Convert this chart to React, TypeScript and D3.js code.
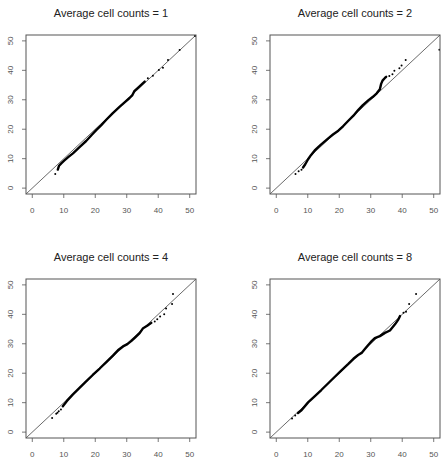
import React from 'react';
import * as d3 from 'd3';

// panel titles
const titles = [
  'Average cell counts = 1',
  'Average cell counts = 2',
  'Average cell counts = 4',
  'Average cell counts = 8',
];

const tickValues = [0, 10, 20, 30, 40, 50];

// dense part of each QQ plot
const band1 = [[8.1, 6.3], [8.5, 7.6], [9.2, 8.4], [10.2, 9.4], [11.5, 10.6], [12.9, 11.8], [15, 13.9], [17.1, 16.0], [19, 18.2], [20.3, 19.7], [22, 21.5], [23.5, 23.2], [25.5, 25.4], [27.7, 27.6], [29.5, 29.3], [30.9, 30.6], [31.8, 31.6], [32.4, 32.9], [33.3, 33.8], [34.5, 35.0], [35.7, 36.2]];
const band2 = [[8.5, 7.0], [9.2, 8.1], [10.1, 9.8], [11.0, 11.2], [12.2, 12.8], [14, 14.6], [16.5, 16.9], [18, 18.2], [19.7, 19.5], [21.2, 21.0], [22.8, 22.8], [24.5, 24.6], [26, 26.5], [27.5, 28.2], [29.2, 29.8], [30.7, 31.0], [31.9, 32.2], [32.9, 33.6], [33.3, 35.4], [33.8, 36.6], [34.5, 37.4], [34.9, 37.8]];
const band4 = [[9.7, 8.8], [11, 10.6], [12.9, 12.8], [15, 15.0], [17.1, 17.2], [19.2, 19.4], [21.4, 21.6], [23.5, 23.8], [25.6, 26.0], [27.2, 27.8], [28.8, 29.1], [30.2, 29.9], [31.4, 30.9], [32.8, 32.3], [34.1, 33.6], [35.2, 35.3], [36.5, 36.1], [37.8, 37.1]];
const band8 = [[6.9, 6.5], [8.0, 7.4], [10.1, 10.1], [12, 12.0], [14.3, 14.3], [16.5, 16.6], [18.6, 18.8], [20.7, 21.0], [22.8, 23.1], [24.5, 24.9], [26, 26.2], [27.1, 26.9], [28.2, 28.3], [29.2, 29.6], [30.3, 30.9], [31.3, 31.9], [32.9, 32.6], [34.5, 33.7], [36.1, 34.5], [37.7, 36.6], [38.8, 38.3], [39.3, 39.4]];

// sparse points in the tails
const pts1 = [[7.3, 4.8], [36.7, 37.3], [38.3, 38.2], [40.2, 40.1], [41.5, 40.9], [43.1, 43.5], [46.8, 46.9], [51.7, 51.7]];
const pts2 = [[6.1, 4.8], [7.1, 5.7], [8.0, 6.2], [35.9, 38.1], [36.9, 38.7], [37.5, 39.9], [39.1, 40.7], [39.8, 41.6], [41.1, 43.5], [51.8, 47.0]];
const pts4 = [[6.3, 4.8], [7.6, 6.2], [8.0, 6.6], [8.4, 7.1], [9.1, 7.7], [38.9, 37.6], [39.7, 38.3], [40.6, 39.3], [41.9, 40.0], [42.5, 42.0], [44.4, 43.5], [44.7, 46.9]];
const pts8 = [[5.0, 4.6], [6.0, 5.6], [40.4, 40.5], [41.2, 40.9], [42.2, 43.5], [44.4, 46.9]];

const bands = [band1, band2, band4, band8];
const points = [pts1, pts2, pts4, pts8];

const boxW = 170;
const boxH = 159;
const origins = [[26, 35], [270, 35], [26, 279], [270, 279]];

const axisColor = '#555';
const font = '"Liberation Sans", Arial, sans-serif';

function Panel({ idx }: { idx: number }) {
  const [ox, oy] = origins[idx];
  const x = d3.scaleLinear().domain([-2, 52]).range([0, boxW]);
  const y = d3.scaleLinear().domain([-2, 52]).range([boxH, 0]);
  const line = d3.line<number[]>().x(d => x(d[0])).y(d => y(d[1]));
  const clipId = `clip${idx}`;

  return (
    <g transform={`translate(${ox},${oy})`}>
      <text
        x={boxW / 2}
        y={-18}
        textAnchor="middle"
        fontSize={11}
        fill="#222"
        fontFamily={font}
      >
        {titles[idx]}
      </text>
      <defs>
        <clipPath id={clipId}>
          <rect x={0} y={0} width={boxW} height={boxH} />
        </clipPath>
      </defs>
      <g clipPath={`url(#${clipId})`}>
        <line
          x1={x(-2)}
          y1={y(-2)}
          x2={x(52)}
          y2={y(52)}
          stroke="#444"
          strokeWidth={0.8}
        />
        <path
          d={line(bands[idx]) || ''}
          fill="none"
          stroke="#000"
          strokeWidth={2.4}
          strokeLinecap="round"
          strokeLinejoin="round"
        />
        {points[idx].map((p, i) => (
          <circle key={i} cx={x(p[0])} cy={y(p[1])} r={1} fill="#000" />
        ))}
      </g>
      <rect x={0} y={0} width={boxW} height={boxH} fill="none" stroke={axisColor} strokeWidth={1} />
      {/* x axis */}
      {tickValues.map(t => (
        <g key={`x${t}`} transform={`translate(${x(t)},${boxH})`}>
          <line y1={0} y2={4} stroke={axisColor} strokeWidth={0.8} />
          <text y={19} textAnchor="middle" fontSize={8} fill="#555" fontFamily={font}>
            {t}
          </text>
        </g>
      ))}
      {/* y axis */}
      {tickValues.map(t => (
        <g key={`y${t}`} transform={`translate(0,${y(t)})`}>
          <line x1={0} x2={-4} stroke={axisColor} strokeWidth={0.8} />
          <text
            transform="translate(-13,0) rotate(-90)"
            textAnchor="middle"
            fontSize={8}
            fill="#555"
            fontFamily={font}
          >
            {t}
          </text>
        </g>
      ))}
    </g>
  );
}

export default function App() {
  return (
    <svg
      width={446}
      height={473}
      style={{ position: 'absolute', left: 0, top: 0, background: '#fff' }}
    >
      {titles.map((_, i) => (
        <Panel key={i} idx={i} />
      ))}
    </svg>
  );
}
